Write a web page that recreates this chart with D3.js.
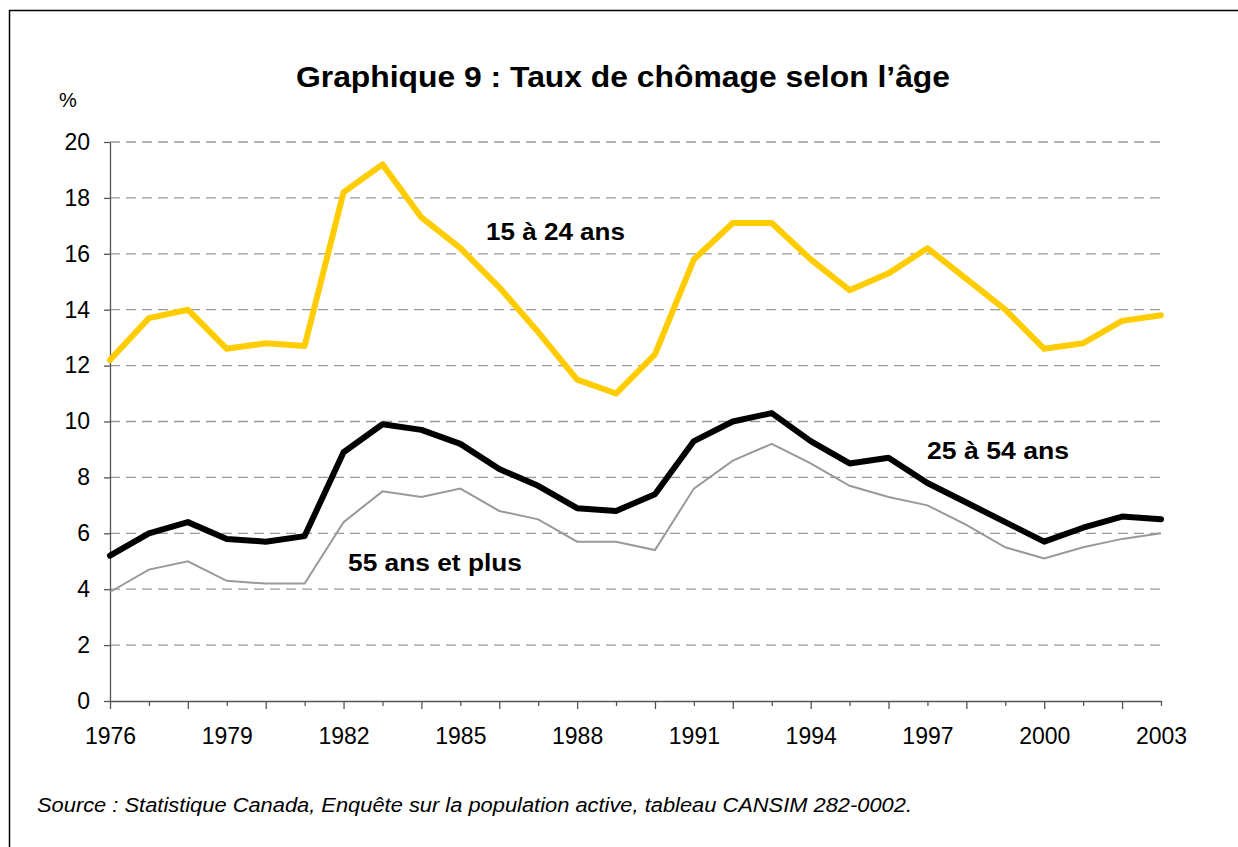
<!DOCTYPE html>
<html>
<head>
<meta charset="utf-8">
<script src="https://cdn.jsdelivr.net/npm/d3@7"></script>
<style>
  body { margin: 0; background: #fff; }
  svg { display: block; font-family: "Liberation Sans", Arial, Helvetica, sans-serif; }
</style>
</head>
<body>
<svg id="chart" width="1238" height="847"></svg>
<script>
// years 1976..2003
var years = d3.range(1976, 2004);
var tickYears = [1976, 1979, 1982, 1985, 1988, 1991, 1994, 1997, 2000, 2003];
var yTicks = [0, 2, 4, 6, 8, 10, 12, 14, 16, 18, 20];

// unemployment rate (%)
var youth = [12.2, 13.7, 14.0, 12.6, 12.8, 12.7, 18.2, 19.2, 17.3, 16.2, 14.8, 13.2, 11.5, 11.0,
  12.4, 15.8, 17.1, 17.1, 15.8, 14.7, 15.3, 16.2, 15.1, 14.0, 12.6, 12.8, 13.6, 13.8];
var core = [5.2, 6.0, 6.4, 5.8, 5.7, 5.9, 8.9, 9.9, 9.7, 9.2, 8.3, 7.7, 6.9, 6.8,
  7.4, 9.3, 10.0, 10.3, 9.3, 8.5, 8.7, 7.8, 7.1, 6.4, 5.7, 6.2, 6.6, 6.5];
var older = [3.9, 4.7, 5.0, 4.3, 4.2, 4.2, 6.4, 7.5, 7.3, 7.6, 6.8, 6.5, 5.7, 5.7,
  5.4, 7.6, 8.6, 9.2, 8.5, 7.7, 7.3, 7.0, 6.3, 5.5, 5.1, 5.5, 5.8, 6.0];

var seriesNames = ["15 à 24 ans", "25 à 54 ans", "55 ans et plus"];

var svg = d3.select("#chart");

var x = d3.scaleLinear().domain([1976, 2003]).range([110, 1161]);
var y = d3.scaleLinear().domain([0, 20]).range([701, 142]);

// outer frame (only left and top edges are visible)
svg.append("path")
  .attr("d", "M9.5,847V10.5H1238")
  .attr("fill", "none")
  .attr("stroke", "#000")
  .attr("stroke-width", 1.5);

// title
svg.append("text")
  .attr("x", 623).attr("y", 87)
  .attr("text-anchor", "middle")
  .attr("font-weight", "bold")
  .attr("font-size", 30)
  .attr("textLength", 654)
  .attr("lengthAdjust", "spacingAndGlyphs")
  .text("Graphique 9 : Taux de chômage selon l’âge");

svg.append("text")
  .attr("x", 59).attr("y", 107)
  .attr("font-size", 20)
  .text("%");

// dashed grid
svg.append("g")
  .selectAll("line")
  .data(yTicks.filter(function(d){ return d > 0; }))
  .enter().append("line")
  .attr("x1", 110).attr("x2", 1161)
  .attr("y1", function(d){ return y(d); })
  .attr("y2", function(d){ return y(d); })
  .attr("stroke", "#999")
  .attr("stroke-width", 1.3)
  .attr("stroke-dasharray", "10,6");

// y axis
var yAxis = svg.append("g")
  .attr("transform", "translate(110,0)")
  .call(d3.axisLeft(y).tickValues(yTicks).tickSize(6).tickPadding(14).tickSizeOuter(0));
yAxis.selectAll("text").attr("font-size", 23).attr("fill", "#000").attr("font-family", null);
yAxis.selectAll("line, path").attr("stroke", "#555").attr("stroke-width", 1.3);

// x axis
var xAxis = svg.append("g")
  .attr("transform", "translate(0,701)")
  .call(d3.axisBottom(x).tickValues(years).tickSize(7).tickSizeOuter(0)
    .tickFormat(function(d){ return tickYears.indexOf(d) >= 0 ? d : ""; }).tickPadding(20));
xAxis.selectAll("text").attr("font-size", 23).attr("fill", "#000").attr("font-family", null);
xAxis.selectAll("line, path").attr("stroke", "#555").attr("stroke-width", 1.3);
xAxis.selectAll(".tick line").attr("y2", function(d, i){ return i % 2 ? 5 : 8; });

var line = d3.line()
  .x(function(d, i){ return x(years[i]); })
  .y(function(d){ return y(d); });

svg.append("path").datum(older)
  .attr("d", line).attr("fill", "none")
  .attr("stroke", "#999").attr("stroke-width", 2);

svg.append("path").datum(core)
  .attr("d", line).attr("fill", "none")
  .attr("stroke", "#000").attr("stroke-width", 6)
  .attr("stroke-linejoin", "round").attr("stroke-linecap", "round");

svg.append("path").datum(youth)
  .attr("d", line).attr("fill", "none")
  .attr("stroke", "#ffcc00").attr("stroke-width", 6)
  .attr("stroke-linejoin", "round").attr("stroke-linecap", "round");

// series labels
var labels = [
  {text: seriesNames[0], x: 486, y: 240, w: 139},
  {text: seriesNames[1], x: 927, y: 459, w: 142},
  {text: seriesNames[2], x: 348, y: 571, w: 174}
];
svg.append("g").selectAll("text")
  .data(labels)
  .enter().append("text")
  .attr("x", function(d){ return d.x; })
  .attr("y", function(d){ return d.y; })
  .attr("font-size", 23)
  .attr("font-weight", "bold")
  .attr("textLength", function(d){ return d.w; })
  .attr("lengthAdjust", "spacingAndGlyphs")
  .text(function(d){ return d.text; });

// source note
svg.append("text")
  .attr("x", 37).attr("y", 812)
  .attr("font-size", 20)
  .attr("font-style", "italic")
  .attr("textLength", 875)
  .attr("lengthAdjust", "spacingAndGlyphs")
  .text("Source : Statistique Canada, Enquête sur la population active, tableau CANSIM 282-0002.");
</script>
</body>
</html>
